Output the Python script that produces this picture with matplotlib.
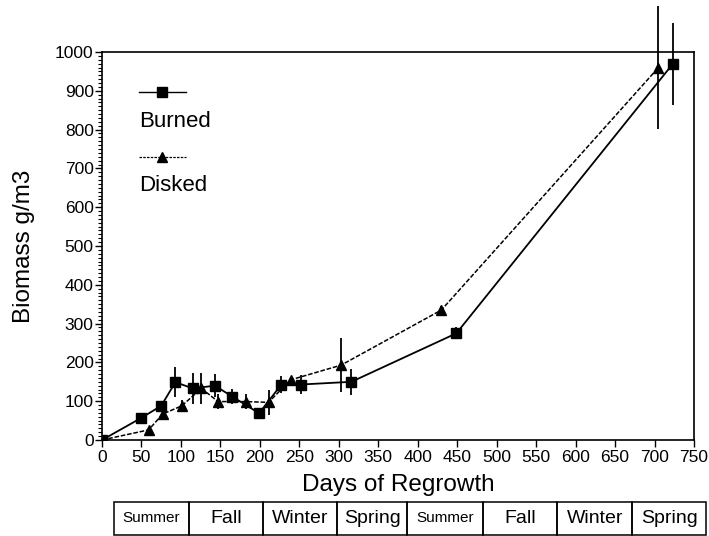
import matplotlib.pyplot as plt
from matplotlib.lines import Line2D
from matplotlib.patches import Rectangle
from matplotlib.ticker import MultipleLocator

plt.rcParams['font.family'] = ['Liberation Sans', 'DejaVu Sans']

# Burned plots
burned_days = [0, 49, 75, 93, 115, 143, 165, 199, 227, 252, 316, 449, 723]
burned_mass = [0, 56, 88, 149, 133, 140, 112, 69, 142, 143, 150, 275, 969]
burned_err = [0, 0, 10, 38, 40, 30, 20, 8, 22, 25, 33, 15, 105]

# Disked plots
disked_days = [0, 59, 77, 101, 126, 147, 182, 211, 239, 303, 430, 705]
disked_mass = [0, 26, 67, 88, 133, 99, 99, 97, 155, 193, 335, 960]
disked_err = [0, 0, 10, 15, 40, 20, 20, 32, 8, 70, 10, 158]

season_names = ['Summer', 'Fall', 'Winter', 'Spring', 'Summer', 'Fall', 'Winter', 'Spring']
season_edges = [15, 110, 204, 298, 387, 483, 577, 672, 765]
season_sizes = [11, 14, 14, 14, 11, 14, 14, 14]

fig = plt.figure(figsize=(7.09, 5.36), dpi=100)
ax = fig.add_axes([102 / 709, 1 - 440 / 536, 592 / 709, 388 / 536])

eb1 = ax.errorbar(burned_days, burned_mass, yerr=burned_err, color='black', marker='s',
                  markersize=6.5, linewidth=1.3, elinewidth=1.3, capsize=0)
eb2 = ax.errorbar(disked_days, disked_mass, yerr=disked_err, color='black', marker='^',
                  markersize=7.5, linewidth=1.1, linestyle=(0, (3, 1.2)),
                  elinewidth=1.3, capsize=0)
for eb in (eb1, eb2):
    for coll in eb.lines[2]:
        coll.set_clip_on(False)

ax.set_xlim(0, 750)
ax.set_ylim(0, 1000)
ax.xaxis.set_major_locator(MultipleLocator(50))
ax.yaxis.set_major_locator(MultipleLocator(100))
ax.yaxis.set_minor_locator(MultipleLocator(10))
ax.tick_params(axis='both', direction='out', length=5, width=1, labelsize=12.5, pad=1)
ax.tick_params(axis='y', which='minor', direction='out', length=3, width=0.8)
ax.tick_params(axis='x', pad=2)
for s in ax.spines.values():
    s.set_linewidth(1.2)

ax.set_xlabel('Days of Regrowth', fontsize=17.5)
ax.set_ylabel('Biomass g/m3', fontsize=17.5)
ax.xaxis.set_label_coords(0.5, -0.088)
ax.yaxis.set_label_coords(-0.113, 0.5)

# legend drawn by hand like the original
ax.add_line(Line2D([0.062, 0.102, 0.142], [0.897, 0.897, 0.897], transform=ax.transAxes,
                   color='black', linewidth=1, marker='s', markersize=6.5, markevery=[1]))
ax.text(0.062, 0.822, 'Burned', transform=ax.transAxes, fontsize=16, va='center')
ax.add_line(Line2D([0.062, 0.102, 0.142], [0.730, 0.730, 0.730], transform=ax.transAxes,
                   color='black', linewidth=0.9, linestyle=(0, (2, 1)),
                   marker='^', markersize=7.5, markevery=[1]))
ax.text(0.062, 0.655, 'Disked', transform=ax.transAxes, fontsize=16, va='center')

# season strip below the axis
tab = fig.add_axes([102 / 709, 1 - 536 / 536, 592 / 709, 35 / 536])
tab.set_xlim(0, 750)
tab.set_ylim(0, 1)
tab.axis('off')
for i, name in enumerate(season_names):
    x0, x1 = season_edges[i], season_edges[i + 1]
    tab.add_patch(Rectangle((x0, 0.02), x1 - x0, 0.96, fill=False, edgecolor='black',
                            linewidth=1.1, clip_on=False))
    tab.text((x0 + x1) / 2, 0.5, name, ha='center', va='center',
             fontsize=season_sizes[i], clip_on=False)

fig.savefig('out.png', dpi=100, facecolor='white')
